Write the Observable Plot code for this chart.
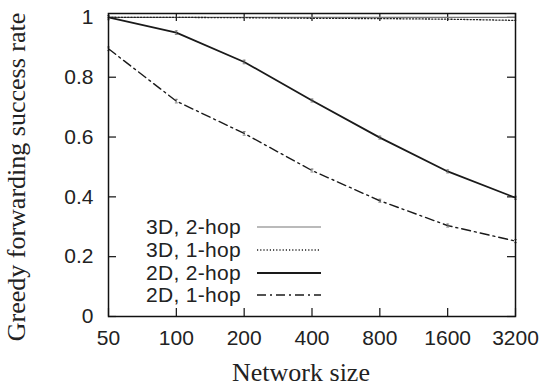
<!DOCTYPE html>
<html><head><meta charset="utf-8">
<script src="https://cdn.jsdelivr.net/npm/d3@7"></script>
<script src="https://cdn.jsdelivr.net/npm/@observablehq/plot@0.6"></script>
<style>
html,body{margin:0;padding:0;background:#fff;}
#wrap{position:relative;width:542px;height:387px;}
#legend{position:absolute;left:0;top:0;font-family:"Liberation Sans",Arial,sans-serif;font-size:21px;color:#222;}
.row{position:absolute;display:flex;align-items:center;}
.row span{display:inline-block;width:241px;text-align:right;letter-spacing:0.3px;}
.row svg{margin-left:16px;}
</style></head>
<body><div id="wrap"></div>
<script>
const sizes = [50, 100, 200, 400, 800, 1600, 3200];
const seriesNames = ["3D, 2-hop", "3D, 1-hop", "2D, 2-hop", "2D, 1-hop"];
const d3TwoHop = [1, 1, 1, 1, 1, 1, 1];
const d3OneHop = [1, 1, 0.999, 0.997, 0.996, 0.994, 0.99];
const d2TwoHop = [1.0, 0.949, 0.851, 0.722, 0.598, 0.485, 0.397];
const d2OneHop = [0.895, 0.72, 0.612, 0.488, 0.387, 0.304, 0.252];
const errors = [0.006, 0.006, 0.006, 0.005, 0.005, 0.005, 0.005];
const yTicks = [0, 0.2, 0.4, 0.6, 0.8, 1];
const xLabel = "Network size";
const yLabel = "Greedy forwarding success rate";

const styles = [
  {stroke: "#777", strokeWidth: 1.1, dash: null},
  {stroke: "#222", strokeWidth: 1.3, dash: "1.2,2"},
  {stroke: "#1a1a1a", strokeWidth: 1.8, dash: null},
  {stroke: "#1a1a1a", strokeWidth: 1.4, dash: "9,4,2,4"}
];
const values = [d3TwoHop, d3OneHop, d2TwoHop, d2OneHop];
const rows = [];
values.forEach((arr, s) => arr.forEach((v, i) => rows.push({series: seriesNames[s], s, x: sizes[i], y: v, e: errors[i]})));

const W = 542, H = 387, mL = 108, mR = 27, mT = 13, mB = 71;
const pw = W - mL - mR, ph = H - mT - mB, tk = 8;
const serif = "'Liberation Serif', 'Times New Roman', serif";

const lineMarks = values.map((arr, s) => Plot.line(rows.filter(r => r.s === s), {
  x: "x", y: "y", stroke: styles[s].stroke, strokeWidth: styles[s].strokeWidth,
  strokeDasharray: styles[s].dash
}));
const errRows = rows.filter(r => r.s >= 2);

const chart = Plot.plot({
  width: W, height: H,
  marginLeft: mL, marginRight: mR, marginTop: mT, marginBottom: mB,
  style: {fontFamily: "'Liberation Sans', Arial, sans-serif", fontSize: "21px", color: "#222", background: "#fff"},
  x: {type: "log", domain: [50, 3200], axis: null},
  y: {domain: [0, 1.013]},
  marks: [
    Plot.ruleX(sizes, {x: d => d, insetTop: ph - tk, stroke: "#111", strokeWidth: 1.2}),
    Plot.ruleX(sizes, {x: d => d, insetBottom: ph - tk, stroke: "#111", strokeWidth: 1.2}),
    Plot.ruleY(yTicks, {y: d => d, insetRight: pw - tk, stroke: "#111", strokeWidth: 1.2}),
    Plot.ruleY(yTicks, {y: d => d, insetLeft: pw - tk, stroke: "#111", strokeWidth: 1.2}),
    ...lineMarks,
    Plot.ruleX(errRows, {x: "x", y1: d => d.y - d.e, y2: d => d.y + d.e, stroke: "#666", strokeWidth: 0.8}),
    Plot.link(errRows, {x1: d => d.x * 0.985, x2: d => d.x * 1.015, y1: d => d.y + d.e, y2: d => d.y + d.e, stroke: "#666", strokeWidth: 0.8}),
    Plot.link(errRows, {x1: d => d.x * 0.985, x2: d => d.x * 1.015, y1: d => d.y - d.e, y2: d => d.y - d.e, stroke: "#666", strokeWidth: 0.8}),
    Plot.text(sizes, {x: d => d, text: d => String(d), frameAnchor: "bottom", lineAnchor: "top", dy: 14, fontSize: 21, fill: "#222"}),
    Plot.axisY({ticks: yTicks, tickSize: 0, tickPadding: 15, tickFormat: d => String(d), label: null, fontSize: 21}),
    Plot.frame({stroke: "#111", strokeWidth: 1.5}),
    Plot.text([xLabel], {frameAnchor: "bottom", dy: 56, dx: -11, fontFamily: serif, fontSize: 26, fill: "#222", lineAnchor: "middle"}),
    Plot.text([yLabel], {frameAnchor: "left", dx: -92, dy: 12, rotate: -90, textAnchor: "middle", lineAnchor: "middle", fontFamily: serif, fontSize: 26, fill: "#222"})
  ]
});
const wrap = document.getElementById("wrap");
wrap.appendChild(chart);

const legend = document.createElement("div");
legend.id = "legend";
const rowY = [227, 250, 273, 295];
seriesNames.forEach((name, s) => {
  const row = document.createElement("div");
  row.className = "row";
  row.style.top = (rowY[s] - 12) + "px";
  row.style.height = "24px";
  const st = styles[s];
  row.innerHTML = `<span>${name}</span><svg width="64" height="24"><line x1="0" x2="64" y1="12" y2="12" stroke="${st.stroke}" stroke-width="${st.strokeWidth}" ${st.dash ? `stroke-dasharray="${st.dash}"` : ""}/></svg>`;
  legend.appendChild(row);
});
wrap.appendChild(legend);
</script></body></html>
